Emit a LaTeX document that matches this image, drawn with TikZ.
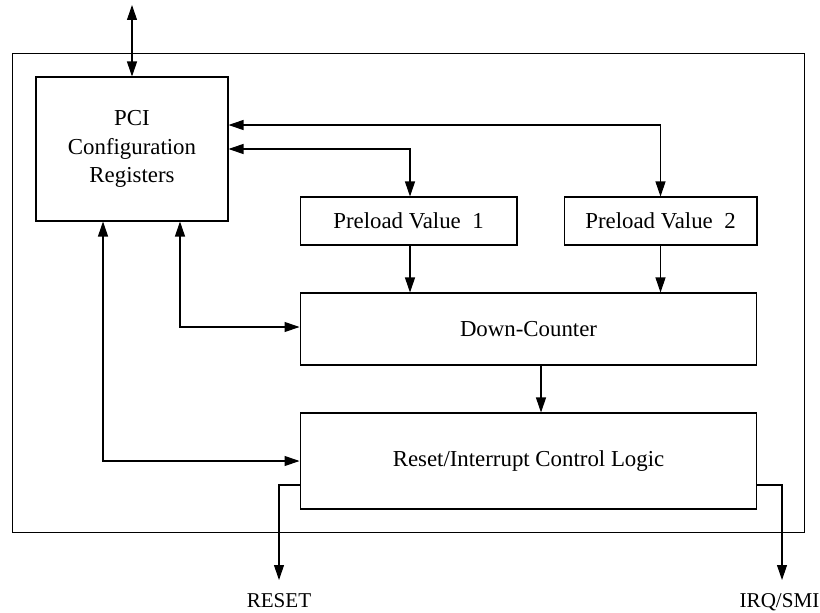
\documentclass[tikz,border=0pt]{standalone}
\usepackage{fontspec}
\setmainfont{Liberation Serif}
\usetikzlibrary{arrows.meta,positioning}

\begin{document}
\begin{tikzpicture}[x=0.02cm, y=-0.02cm, line width=0.6pt,
      >={Triangle[length=0.3cm,width=0.2cm]},
      font=\fontsize{13}{16.2}\selectfont,
      block/.style={draw, align=center, inner sep=0pt},
      pin/.style={inner sep=0pt, font=\fontsize{12}{14}\selectfont}]
      \useasboundingbox (0,0) rectangle (820,612);
      \node (frame) [draw, minimum width=15.86cm, minimum height=9.6cm] at (408.5,293) {};
      \node (pci) [block, minimum width=3.84cm, minimum height=2.88cm] at (132,149) {PCI\\Configuration\\Registers};
      \node (pre1) [block, minimum width=4.34cm, minimum height=0.96cm] at (408.5,221) {Preload Value\ \ 1};
      \node (pre2) [block, minimum width=3.86cm, minimum height=0.96cm] at (660.5,221) {Preload Value\ \ 2};
      \node (counter) [block, minimum width=9.14cm, minimum height=1.44cm] at (528.5,329) {Down-Counter};
      \node (logic) [block, minimum width=9.14cm, minimum height=1.92cm] at (528.5,461) {Reset/Interrupt Control Logic};
      \coordinate (bus) at (132,5);
      \coordinate (resetout) at (279,580);
      \coordinate (irqout) at (782,580);
      \node (reset) [pin, below=0.26cm of resetout] {RESET};
      \node (irq) [pin, below=0.26cm of irqout, xshift=-0.05cm] {IRQ/SMI};
    \draw [<->] (bus) to (pci.north);
    \draw [<->] ([yshift=0.48cm]pci.east) -| (pre2.north);
    \draw [<->] (pci.east) -| ([xshift=0.03cm]pre1.north);
    \draw [->] ([xshift=0.03cm]pre1.south) to ([xshift=0.03cm]pre1.south |- counter.north);
    \draw [->] (pre2.south) to (pre2.south |- counter.north);
    \draw [<->] ([xshift=0.96cm]pci.south) |- ([yshift=0.04cm]counter.west);
    \draw [<->] ([xshift=-0.58cm]pci.south) |- (logic.west);
    \draw [->] ([xshift=0.25cm]counter.south) to ([xshift=0.25cm]logic.north);
    \draw [->] ([yshift=-0.48cm]logic.west) -| (resetout);
    \draw [->] ([yshift=-0.48cm]logic.east) -| (irqout);
      \end{tikzpicture}
\end{document}
